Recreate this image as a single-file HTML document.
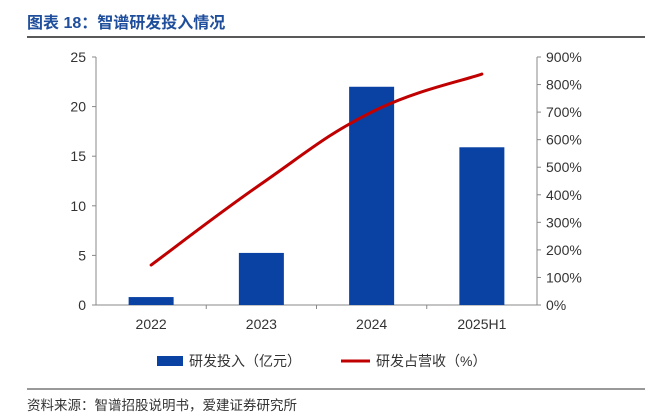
<!DOCTYPE html>
<html><head><meta charset="utf-8"><style>
body{margin:0;width:653px;height:416px;background:#fff;overflow:hidden;font-family:"Liberation Sans","Noto Sans CJK SC",sans-serif;}
svg{display:block}
</style></head><body>
<svg width="653" height="416" id="c">
<text x="27" y="28" font-size="16" font-weight="bold" fill="#1f4e9c" font-family="Liberation Sans,Noto Sans CJK SC,sans-serif">图表 18：智谱研发投入情况</text>
<line x1="27" y1="37" x2="645" y2="37" stroke="#222" stroke-width="1.5"/>
<g id="plot"></g>
<g font-size="14" fill="#333">
<rect x="157" y="356" width="26" height="10" fill="#0a42a4"/>
<text x="189" y="366">研发投入（亿元）</text>
<line x1="341" y1="361" x2="370" y2="361" stroke="#c00000" stroke-width="3"/>
<text x="376" y="366">研发占营收（%）</text>
</g>
<line x1="27" y1="389" x2="645" y2="389" stroke="#333" stroke-width="1"/>
<text x="27" y="410" font-size="13.5" fill="#333">资料来源：智谱招股说明书，爱建证券研究所</text>
</svg>
<script>
const categories=["2022","2023","2024","2025H1"];
const rdSpend=[0.8,5.25,22,15.9];
const rdRatio=[145,440,700,838];
const leftTicks=[0,5,10,15,20,25];
const rightTicks=[0,100,200,300,400,500,600,700,800,900];
const NS="http://www.w3.org/2000/svg";
const L=96,R=537,T=57,B=305;
const yL=v=>B-(v/25)*(B-T);
const yR=v=>B-(v/900)*(B-T);
const band=(R-L)/categories.length;
const xC=i=>L+band*(i+0.5);
const g=document.getElementById('plot');
function mk(t,a){const e=document.createElementNS(NS,t);for(const k in a)e.setAttribute(k,a[k]);g.appendChild(e);return e;}
let e;
e=mk('line',{x1:L,y1:T,x2:L,y2:B,stroke:'#888'});


e=mk('line',{x1:R,y1:T,x2:R,y2:B,stroke:'#888'});


e=mk('line',{x1:L,y1:B,x2:R,y2:B,stroke:'#888'});


leftTicks.forEach(v=>{
 mk('line',{x1:L-4,y1:yL(v),x2:L,y2:yL(v),stroke:'#888'});
 e=mk('text',{x:L-10,y:yL(v)+5,'text-anchor':'end','font-size':14,fill:'#333'});e.textContent=v;
 
 
});
rightTicks.forEach(v=>{
 mk('line',{x1:R,y1:yR(v),x2:R+4,y2:yR(v),stroke:'#888'});
 e=mk('text',{x:R+9,y:yR(v)+5,'font-size':14,fill:'#333'});e.textContent=v+'%';
 
 
});
for(let i=1;i<categories.length;i++)mk('line',{x1:L+band*i,y1:B,x2:L+band*i,y2:B+4,stroke:'#888'});
categories.forEach((c,i)=>{
 e=mk('rect',{x:xC(i)-22.5,y:yL(rdSpend[i]),width:45,height:B-yL(rdSpend[i]),fill:'#0a42a4'});
 
 
 e=mk('text',{x:xC(i),y:B+24,'text-anchor':'middle','font-size':14,fill:'#333'});e.textContent=c;
 
 
});
const pts=rdRatio.map((v,i)=>[xC(i),yR(v)]);
let d='M'+pts[0][0]+','+pts[0][1];
for(let i=0;i<pts.length-1;i++){
 const p0=pts[Math.max(0,i-1)],p1=pts[i],p2=pts[i+1],p3=pts[Math.min(pts.length-1,i+2)];
 const t=0.2;
 d+=' C'+(p1[0]+(p2[0]-p0[0])*t)+','+(p1[1]+(p2[1]-p0[1])*t)+' '+(p2[0]-(p3[0]-p1[0])*t)+','+(p2[1]-(p3[1]-p1[1])*t)+' '+p2[0]+','+p2[1];
}
e=mk('path',{d:d,fill:'none',stroke:'#c00000','stroke-width':3,'stroke-linecap':'round'});


</script>
</body></html>
